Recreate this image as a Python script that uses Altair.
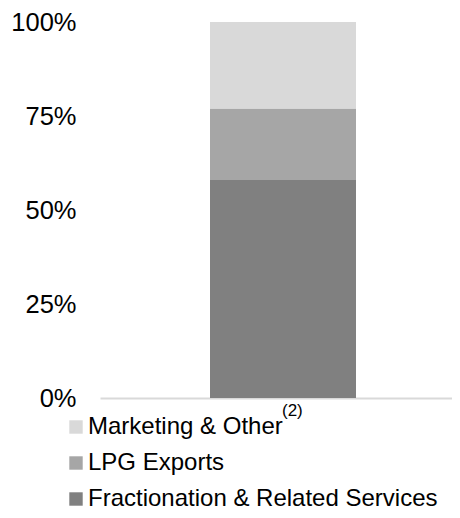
import altair as alt
import pandas as pd

segments = ["Fractionation & Related Services", "LPG Exports", "Marketing & Other"]
shares = [0.58, 0.19, 0.23]
stack_order = [1, 2, 3]
legend_order = ["Marketing & Other", "LPG Exports", "Fractionation & Related Services"]
legend_colors = ["#d9d9d9", "#a6a6a6", "#808080"]
y_ticks = [0, 0.25, 0.5, 0.75, 1.0]
footnote = ["(2)"]

df = pd.DataFrame({
    "cat": ["Total"] * len(segments),
    "segment": segments,
    "share": shares,
    "ord": stack_order,
})

FONT = "Liberation Sans"

bars = alt.Chart(df).mark_bar(size=146, xOffset=7).encode(
    x=alt.X("cat:N", axis=alt.Axis(title=None, labels=False, ticks=False, domain=True,
                                   domainColor="#d9d9d9", domainWidth=2)),
    y=alt.Y("share:Q", stack="zero", scale=alt.Scale(domain=[0, 1], nice=False),
            axis=alt.Axis(values=y_ticks, format=".0%", title=None, domain=False, ticks=False,
                          grid=False, labelFontSize=25.5, labelPadding=24, labelColor="black",
                          labelFont=FONT)),
    color=alt.Color("segment:N",
                    scale=alt.Scale(domain=legend_order, range=legend_colors),
                    legend=alt.Legend(title=None, orient="none", legendX=-36, legendY=393,
                                      symbolType="square", symbolSize=180, symbolOpacity=1,
                                      symbolStrokeWidth=0, labelFontSize=24, labelFont=FONT,
                                      labelColor="black", rowPadding=12, labelOffset=0,
                                      labelLimit=0)),
    order=alt.Order("ord:Q"),
)

sup = alt.Chart(pd.DataFrame({"sup": footnote})).mark_text(
    fontSize=17, font=FONT, color="black", align="left", baseline="middle"
).encode(x=alt.value(182), y=alt.value(389), text="sup:N")

chart = alt.layer(bars, sup).properties(
    width=352, height=376,
    autosize=alt.AutoSizeParams(type="none"),
    padding={"left": 92, "top": 14, "right": 0, "bottom": 112},
).configure_view(stroke=None)

chart.save("out.html", embed_options={"renderer": "svg", "actions": False})
